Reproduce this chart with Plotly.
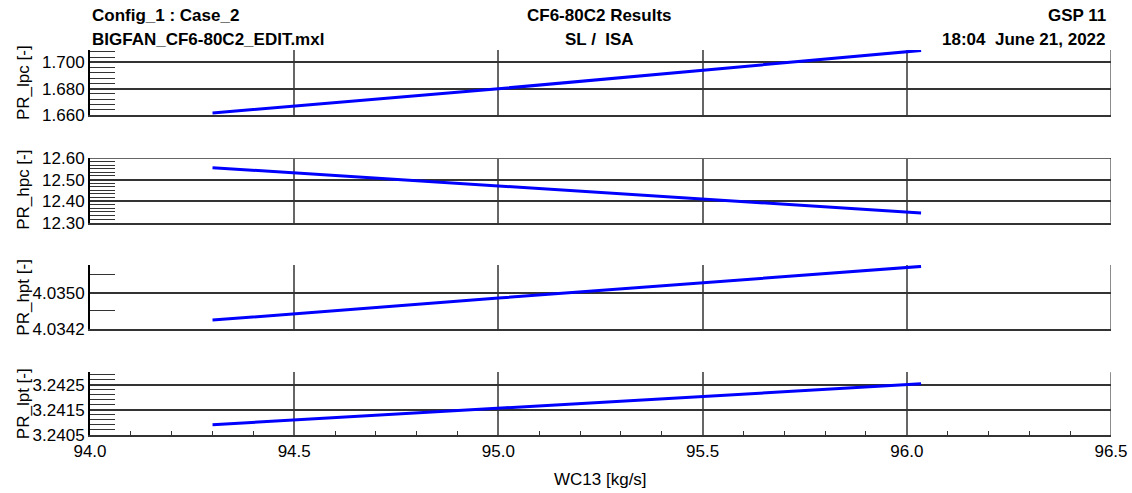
import plotly.graph_objects as go
from plotly.subplots import make_subplots

# ---- data ----
wc13 = [94.30, 95.00, 96.035]
pr_lpc = [1.6615, 1.6800, 1.7092]
pr_hpc = [12.555, 12.470, 12.345]
pr_hpt = [4.03440, 4.03488, 4.03557]
pr_lpt = [3.24091, 3.24156, 3.24254]

series = [
    ("PR_lpc [-]", pr_lpc, [1.660, 1.7095], 0.02, 0.004, ".3f", 1.660),
    ("PR_hpc [-]", pr_hpc, [12.30, 12.60], 0.1, 0.1 / 6, ".2f", 12.30),
    ("PR_hpt [-]", pr_hpt, [4.0342, 4.0356], 0.0008, 0.0004, ".4f", 4.0342),
    ("PR_lpt [-]", pr_lpt, [3.2405, 3.2430], 0.001, 0.0002, ".4f", 3.2405),
]
x_range = [94.0, 96.5]
x_title = "WC13 [kg/s]"

FONT = "Liberation Sans, Arial, sans-serif"
W, H = 1132, 493
ML, MR, MT, MB = 90, 21, 50, 58
plot_h = H - MT - MB
plot_w = W - ML - MR

# subplot pixel extents (top, bottom)
px_extents = [(50, 115), (158, 222.7), (265, 329.3), (372.3, 435)]

fig = make_subplots(rows=4, cols=1, shared_xaxes=False)

for i, (name, vals, yr, dt, mdt, fmt, t0) in enumerate(series, start=1):
    fig.add_trace(
        go.Scatter(x=wc13, y=vals, mode="lines",
                   line=dict(color="#0000ff", width=3),
                   cliponaxis=False, showlegend=False, hoverinfo="skip"),
        row=i, col=1)
    top, bot = px_extents[i - 1]
    d0 = (H - MB - bot) / plot_h
    d1 = (H - MB - top) / plot_h
    yk = "yaxis" if i == 1 else f"yaxis{i}"
    xk = "xaxis" if i == 1 else f"xaxis{i}"
    ysuf = "" if i == 1 else str(i)
    fig.layout[yk].update(
        domain=[max(0, d0), min(1, d1)], range=yr,
        tick0=t0, dtick=dt, tickformat=fmt,
        ticks="inside", ticklen=25, tickcolor="#333", tickwidth=1,
        showline=True, linecolor="#000", linewidth=2,
        showgrid=True, gridcolor="#333", gridwidth=1.5,
        zeroline=False, automargin=False,
        tickfont=dict(family=FONT, size=17, color="#000"),
        minor=dict(ticks="inside", ticklen=25, tick0=t0, dtick=mdt,
                   tickcolor="#333", tickwidth=1, showgrid=False),
    )
    last = (i == 4)
    fig.layout[xk].update(
        range=x_range, dtick=0.5, tick0=94.0,
        showline=True, linecolor="#333", linewidth=2,
        showgrid=True, gridcolor="#666", gridwidth=1.5,
        zeroline=False, automargin=False,
        showticklabels=last, tickformat=".1f",
        ticks="",
        tickfont=dict(family=FONT, size=17, color="#000"),
    )
    if last:
        fig.layout[xk].update(
            minor=dict(ticks="inside", ticklen=4, dtick=0.1, tick0=94.0,
                       tickcolor="#333", tickwidth=1, showgrid=False),
        )
    # grid line at right end of x range
    fig.add_shape(type="line", xref="x" + ysuf, yref="y" + ysuf + " domain",
                  x0=x_range[1], x1=x_range[1], y0=0, y1=1,
                  line=dict(color="#666", width=1.5), layer="below")
    # grid line at top of y range when it is a major tick
    n = (yr[1] - t0) / dt
    if abs(n - round(n)) < 1e-6:
        fig.add_shape(type="line", xref="x" + ysuf + " domain", yref="y" + ysuf,
                      x0=0, x1=1, y0=yr[1], y1=yr[1],
                      line=dict(color="#333", width=1.5), layer="below")
    # y-axis title as rotated annotation
    fig.add_annotation(
        text=name, textangle=-90, xref="paper", yref="paper",
        x=(23.5 - ML) / plot_w, y=(d0 + d1) / 2,
        xanchor="center", yanchor="middle", showarrow=False,
        font=dict(family=FONT, size=17, color="#000"))

# x-axis title
fig.add_annotation(text=x_title, xref="paper", yref="paper",
                   x=0.5, y=(H - MB - 479) / plot_h,
                   xanchor="center", yanchor="middle", showarrow=False,
                   font=dict(family=FONT, size=17, color="#000"))

# header texts
def yp(px):
    return (H - MB - px) / plot_h

hdr = dict(family=FONT, size=17, color="#000")
fig.add_annotation(text="<b>Config_1 : Case_2</b>", xref="paper", yref="paper",
                   x=0, y=yp(16), xanchor="left", yanchor="middle",
                   showarrow=False, font=hdr)
fig.add_annotation(text="<b>BIGFAN_CF6-80C2_EDIT.mxl</b>", xref="paper", yref="paper",
                   x=0, y=yp(39), xanchor="left", yanchor="middle",
                   showarrow=False, font=hdr)
fig.add_annotation(text="<b>CF6-80C2 Results</b>", xref="paper", yref="paper",
                   x=0.499, y=yp(16), xanchor="center", yanchor="middle",
                   showarrow=False, font=hdr)
fig.add_annotation(text="<b>SL / \u00a0ISA</b>", xref="paper", yref="paper",
                   x=0.499, y=yp(39), xanchor="center", yanchor="middle",
                   showarrow=False, font=hdr)
fig.add_annotation(text="<b>GSP 11</b>", xref="paper", yref="paper",
                   x=(1108 - ML) / plot_w, y=yp(16), xanchor="right", yanchor="middle",
                   showarrow=False, font=hdr)
fig.add_annotation(text="<b>18:04 \u00a0June 21, 2022</b>", xref="paper", yref="paper",
                   x=(1108 - ML) / plot_w, y=yp(39), xanchor="right", yanchor="middle",
                   showarrow=False, font=hdr)

fig.update_layout(
    width=W, height=H,
    margin=dict(l=ML, r=MR, t=MT, b=MB, pad=0, autoexpand=False),
    paper_bgcolor="#fff", plot_bgcolor="#fff",
    font=dict(family=FONT, size=17, color="#000"),
    showlegend=False,
)

fig.write_html(
    "out.html",
    config={"displayModeBar": False},
    post_script="document.body.style.margin='0';document.body.style.padding='0';"
                "document.body.style.overflow='hidden';",
)
